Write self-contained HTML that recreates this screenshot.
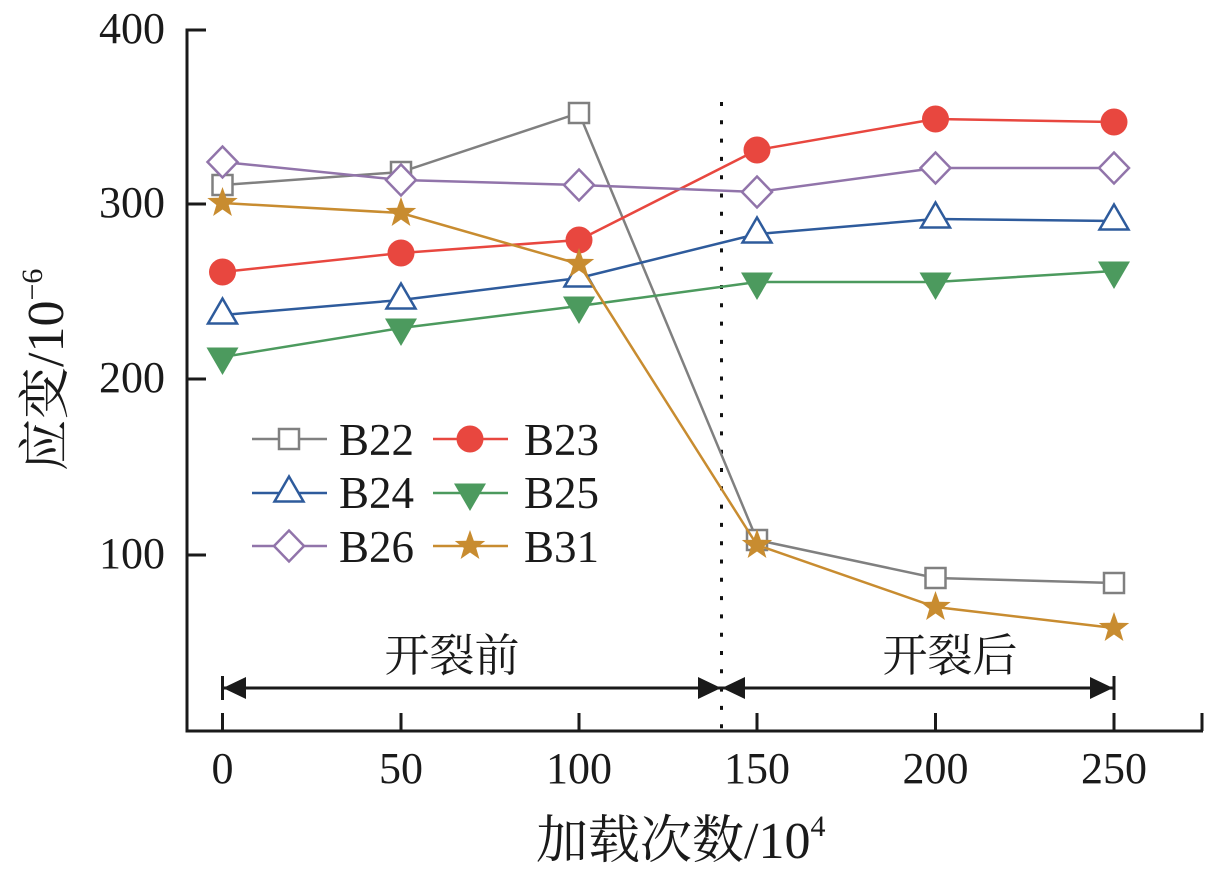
<!DOCTYPE html>
<html>
<head>
<meta charset="utf-8">
<style>
  html, body { margin:0; padding:0; background:#fff; }
  svg { display:block; }
  .num { font-family: "Liberation Serif", "Noto Serif CJK SC", serif; fill:#1a1a1a; }
  .cjk { font-family: "Liberation Serif", "Noto Serif CJK SC", serif; fill:#1a1a1a; }
</style>
</head>
<body>
<svg width="1219" height="875" viewBox="0 0 1219 875" xmlns="http://www.w3.org/2000/svg">
  <defs>
    <path id="star" d="M0,-16 L3.82,-5.26 L15.22,-4.94 L6.18,2.01 L9.40,12.94 L0,6.5 L-9.40,12.94 L-6.18,2.01 L-15.22,-4.94 L-3.82,-5.26 Z"/>
    <rect id="sq" x="-10" y="-10" width="20" height="20"/>
    <path id="tup" d="M0,-16.5 L14.5,8.5 L-14.5,8.5 Z"/>
    <path id="tdn" d="M-16,-9.5 L16,-9.5 L0,18 Z"/>
    <path id="dia" d="M0,-15.5 L15,0 L0,15.5 L-15,0 Z"/>
  </defs>

  <!-- axes -->
  <g stroke="#1a1a1a" stroke-width="3" fill="none">
    <line x1="187" y1="28.5" x2="187" y2="732.5"/>
    <line x1="185.5" y1="731" x2="1203" y2="731"/>
    <line x1="187" y1="30" x2="206" y2="30"/>
    <line x1="187" y1="204" x2="206" y2="204"/>
    <line x1="187" y1="379" x2="206" y2="379"/>
    <line x1="187" y1="555" x2="206" y2="555"/>
    <line x1="222.5" y1="731" x2="222.5" y2="713"/>
    <line x1="401" y1="731" x2="401" y2="713"/>
    <line x1="579" y1="731" x2="579" y2="713"/>
    <line x1="757" y1="731" x2="757" y2="713"/>
    <line x1="935.5" y1="731" x2="935.5" y2="713"/>
    <line x1="1114" y1="731" x2="1114" y2="713"/>
    <line x1="1202" y1="731" x2="1202" y2="713"/>
  </g>

  <g class="num" font-size="44" text-anchor="end">
    <text x="165" y="43">400</text>
    <text x="165" y="217">300</text>
    <text x="165" y="392">200</text>
    <text x="165" y="568">100</text>
  </g>
  <g class="num" font-size="44" text-anchor="middle">
    <text x="222.5" y="783">0</text>
    <text x="401" y="783">50</text>
    <text x="579" y="783">100</text>
    <text x="757" y="783">150</text>
    <text x="935.5" y="783">200</text>
    <text x="1114" y="783">250</text>
  </g>

  <text class="cjk" x="536" y="858" font-size="52">加载次数<tspan font-size="52">/10</tspan><tspan font-size="30" dy="-22">4</tspan></text>
  <text class="cjk" transform="translate(63,471) rotate(-90)" font-size="52">应变<tspan font-size="52">/10</tspan><tspan font-size="30" dy="-21">−6</tspan></text>

  <line x1="721.5" y1="102" x2="721.5" y2="731" stroke="#111" stroke-width="3" stroke-dasharray="4 14.3"/>

  <g stroke="#1a1a1a" stroke-width="3" fill="none">
    <line x1="222.5" y1="688" x2="1114" y2="688"/>
    <line x1="222.5" y1="676" x2="222.5" y2="700"/>
    <line x1="1114" y1="676" x2="1114" y2="700"/>
  </g>
  <g fill="#1a1a1a">
    <path d="M223,688 L246,677 L246,699 Z"/>
    <path d="M721,688 L698,677 L698,699 Z"/>
    <path d="M722,688 L745,677 L745,699 Z"/>
    <path d="M1113,688 L1090,677 L1090,699 Z"/>
  </g>
  <text class="cjk" x="452" y="671" font-size="45" text-anchor="middle">开裂前</text>
  <text class="cjk" x="950" y="671" font-size="45" text-anchor="middle">开裂后</text>

  <polyline fill="none" stroke="#808080" stroke-width="2.5" points="222.5,185 401,172 579,113 757,540 935.5,578 1114,583"/>
  <g fill="#fff" stroke="#808080" stroke-width="2.5">
    <use href="#sq" x="222.5" y="185"/>
    <use href="#sq" x="401" y="172"/>
    <use href="#sq" x="579" y="113"/>
    <use href="#sq" x="757" y="540"/>
    <use href="#sq" x="935.5" y="578"/>
    <use href="#sq" x="1114" y="583"/>
  </g>

  <polyline fill="none" stroke="#e8473f" stroke-width="2.5" points="222.5,272 401,253 579,240 757,150 935.5,119 1114,122"/>
  <g fill="#e8473f">
    <circle cx="222.5" cy="272" r="13.5"/>
    <circle cx="401" cy="253" r="13.5"/>
    <circle cx="579" cy="240" r="13.5"/>
    <circle cx="757" cy="150" r="13.5"/>
    <circle cx="935.5" cy="119" r="13.5"/>
    <circle cx="1114" cy="122" r="13.5"/>
  </g>

  <polyline fill="none" stroke="#2e5b9c" stroke-width="2.5" points="222.5,315 401,300 579,278 757,234 935.5,219 1114,221"/>
  <g fill="#fff" stroke="#2e5b9c" stroke-width="2.5">
    <use href="#tup" x="222.5" y="315"/>
    <use href="#tup" x="401" y="300"/>
    <use href="#tup" x="579" y="278"/>
    <use href="#tup" x="757" y="234"/>
    <use href="#tup" x="935.5" y="219"/>
    <use href="#tup" x="1114" y="221"/>
  </g>

  <polyline fill="none" stroke="#4c9a5e" stroke-width="2.5" points="222.5,357 401,328 579,306 757,282 935.5,282 1114,271"/>
  <g fill="#4c9a5e">
    <use href="#tdn" x="222.5" y="357"/>
    <use href="#tdn" x="401" y="328"/>
    <use href="#tdn" x="579" y="306"/>
    <use href="#tdn" x="757" y="282"/>
    <use href="#tdn" x="935.5" y="282"/>
    <use href="#tdn" x="1114" y="271"/>
  </g>

  <polyline fill="none" stroke="#9174aa" stroke-width="2.5" points="222.5,162 401,180 579,185 757,192 935.5,168 1114,168"/>
  <g fill="#fff" stroke="#9174aa" stroke-width="2.5">
    <use href="#dia" x="222.5" y="162"/>
    <use href="#dia" x="401" y="180"/>
    <use href="#dia" x="579" y="185"/>
    <use href="#dia" x="757" y="192"/>
    <use href="#dia" x="935.5" y="168"/>
    <use href="#dia" x="1114" y="168"/>
  </g>

  <polyline fill="none" stroke="#c88c30" stroke-width="2.5" points="222.5,203 401,213 579,264 757,545 935.5,607 1114,628"/>
  <g fill="#c88c30">
    <use href="#star" x="222.5" y="203"/>
    <use href="#star" x="401" y="213"/>
    <use href="#star" x="579" y="264"/>
    <use href="#star" x="757" y="545"/>
    <use href="#star" x="935.5" y="607"/>
    <use href="#star" x="1114" y="628"/>
  </g>

  <g stroke-width="2.5" fill="none">
    <line x1="252" y1="439" x2="327" y2="439" stroke="#808080"/>
    <line x1="433" y1="439" x2="508" y2="439" stroke="#e8473f"/>
    <line x1="252" y1="493" x2="327" y2="493" stroke="#2e5b9c"/>
    <line x1="433" y1="493" x2="508" y2="493" stroke="#4c9a5e"/>
    <line x1="252" y1="546" x2="327" y2="546" stroke="#9174aa"/>
    <line x1="433" y1="546" x2="508" y2="546" stroke="#c88c30"/>
  </g>
  <use href="#sq" x="289" y="439" fill="#fff" stroke="#808080" stroke-width="2.5"/>
  <circle cx="470" cy="439" r="13.5" fill="#e8473f"/>
  <use href="#tup" x="289" y="493" fill="#fff" stroke="#2e5b9c" stroke-width="2.5"/>
  <use href="#tdn" x="470" y="493" fill="#4c9a5e"/>
  <use href="#dia" x="289" y="546" fill="#fff" stroke="#9174aa" stroke-width="2.5"/>
  <use href="#star" x="470" y="546" fill="#c88c30"/>
  <g class="num" font-size="45">
    <text x="339" y="455">B22</text>
    <text x="524" y="455">B23</text>
    <text x="339" y="508">B24</text>
    <text x="524" y="508">B25</text>
    <text x="339" y="562">B26</text>
    <text x="524" y="562">B31</text>
  </g>
</svg>
</body>
</html>
